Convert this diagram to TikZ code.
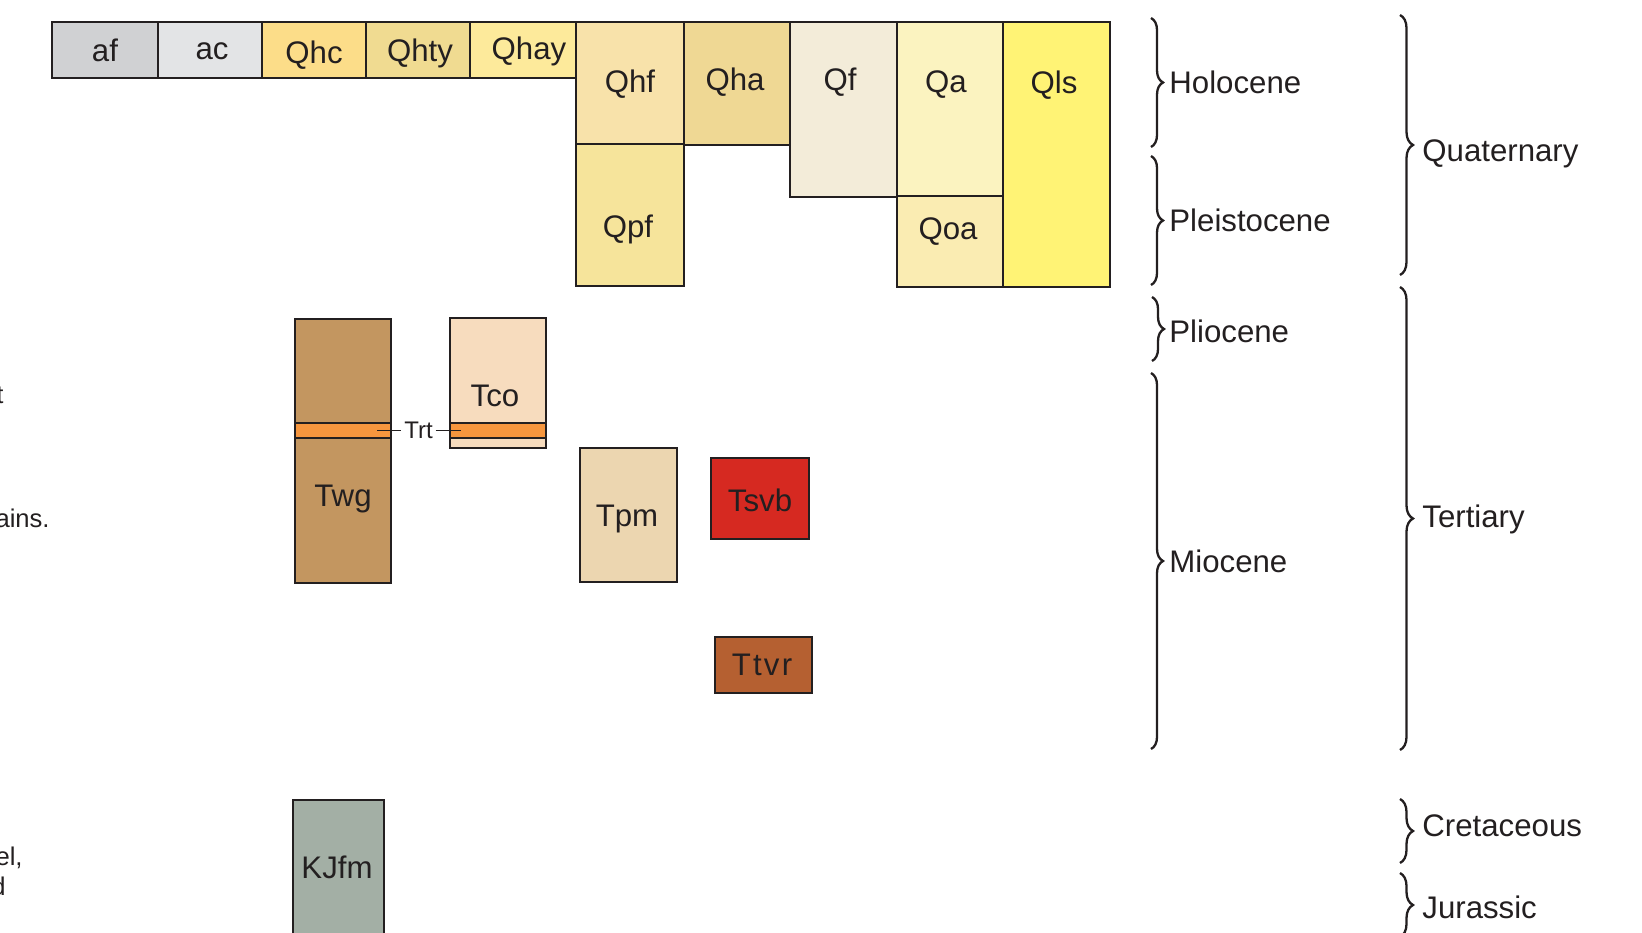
\documentclass[tikz,border=0pt]{standalone}
\usepackage{fontspec}
\setmainfont{Liberation Sans}
\usetikzlibrary{fit,decorations.pathreplacing}

% map unit colours
\definecolor{ink}{HTML}{231F20}
\definecolor{cAf}{HTML}{D0D1D3}
\definecolor{cAc}{HTML}{E3E4E6}
\definecolor{cQhc}{HTML}{FCDD89}
\definecolor{cQhty}{HTML}{F0DB91}
\definecolor{cQhay}{HTML}{FDEA9B}
\definecolor{cQhf}{HTML}{F8E2AA}
\definecolor{cQpf}{HTML}{F6E49B}
\definecolor{cQha}{HTML}{EFD894}
\definecolor{cQf}{HTML}{F3ECD9}
\definecolor{cQa}{HTML}{FBF3C0}
\definecolor{cQoa}{HTML}{FAECB2}
\definecolor{cQls}{HTML}{FFF375}
\definecolor{cTwg}{HTML}{C39660}
\definecolor{cTrt}{HTML}{F6963E}
\definecolor{cTco}{HTML}{F7DCBE}
\definecolor{cTpm}{HTML}{ECD6B0}
\definecolor{cTsvb}{HTML}{D62921}
\definecolor{cTtvr}{HTML}{B56031}
\definecolor{cKJfm}{HTML}{A3AFA5}

\tikzset{
  unitbox/.style={rectangle, draw=ink, line width=0.85pt, inner sep=0pt, outer sep=0pt},
  bandbox/.style={rectangle, draw=ink, line width=0.7pt, inner sep=0pt, outer sep=0pt, fill=cTrt},
  unitlabel/.style={anchor=base, inner sep=0pt, text=ink, font=\fontsize{15.6pt}{18pt}\selectfont},
  smalllabel/.style={inner sep=1.2pt, text=ink, font=\fontsize{12pt}{14pt}\selectfont},
  legendtext/.style={anchor=base east, inner sep=0pt, text=ink, font=\fontsize{12.8pt}{14pt}\selectfont},
  agelabel/.style={anchor=base west, inner sep=0pt, text=ink, font=\fontsize{15.6pt}{18pt}\selectfont},
  leader/.style={draw=ink, line width=0.75pt},
  epochbrace/.style={draw=ink, line width=1.15pt, decorate, decoration={brace, amplitude=6pt}},
  periodbrace/.style={draw=ink, line width=1.15pt, decorate, decoration={brace, amplitude=6.5pt}},
}

\begin{document}
\begin{tikzpicture}[x=0.5pt, y=-0.5pt]
\useasboundingbox (0,0) rectangle (1642,932);

% ---- Quaternary units ----
\node[unitbox, fill=cAf,   fit={(52,22) (158,78)}]   (af) {};
\node[unitbox, fill=cAc,   fit={(158,22) (262,78)}]  (ac) {};
\node[unitbox, fill=cQhc,  fit={(262,22) (366,78)}]  (qhc) {};
\node[unitbox, fill=cQhty, fit={(366,22) (470,78)}]  (qhty) {};
\node[unitbox, fill=cQhay, fit={(470,22) (576,78)}]  (qhay) {};
\node[unitbox, fill=cQhf,  fit={(576,22) (684,144)}] (qhf) {};
\node[unitbox, fill=cQpf,  fit={(576,144) (684,286)}] (qpf) {};
\node[unitbox, fill=cQha,  fit={(684,22) (790,145)}] (qha) {};
\node[unitbox, fill=cQf,   fit={(790,22) (897,197)}] (qf) {};
\node[unitbox, fill=cQa,   fit={(897,22) (1003,196)}] (qa) {};
\node[unitbox, fill=cQoa,  fit={(897,196) (1003,287)}] (qoa) {};
\node[unitbox, fill=cQls,  fit={(1003,22) (1110,287)}] (qls) {};

\node[unitlabel] (af-t)   at (105,61)   {af};
\node[unitlabel] (ac-t)   at (212,59.5) {ac};
\node[unitlabel] (qhc-t)  at (314,63.5) {Qhc};
\node[unitlabel] (qhty-t) at (420,61)   {Qhty};
\node[unitlabel] (qhay-t) at (529,59.5) {Qhay};
\node[unitlabel] (qhf-t)  at (630,92.3) {Qhf};
\node[unitlabel] (qha-t)  at (735,90.7) {Qha};
\node[unitlabel] (qf-t)   at (840,90)   {Qf};
\node[unitlabel] (qa-t)   at (946,92.3) {Qa};
\node[unitlabel] (qls-t)  at (1054,93.3) {Qls};
\node[unitlabel] (qpf-t)  at (628,237.7) {Qpf};
\node[unitlabel] (qoa-t)  at (948,239.3) {Qoa};

% ---- Tertiary units ----
\node[unitbox, fill=cTwg,  fit={(295,319) (391,583)}] (twg) {};
\node[unitbox, fill=cTco,  fit={(450,318) (546,448)}] (tco) {};
\node[bandbox, fit={(295,423) (391,438)}] (trt-a) {};
\node[bandbox, fit={(450,423) (546,438)}] (trt-b) {};
\node[unitbox, fill=cTpm,  fit={(580,448) (677,582)}] (tpm) {};
\node[unitbox, fill=cTsvb, fit={(711,458) (809,539)}] (tsvb) {};
\node[unitbox, fill=cTtvr, fit={(715,637) (812,693)}] (ttvr) {};

\node[unitlabel] (tco-t)  at (495,406.7) {Tco};
\node[unitlabel] (twg-t)  at (343,506.7) {Twg};
\node[unitlabel] (tpm-t)  at (627,526.7) {Tpm};
\node[unitlabel] (tsvb-t) at (760,511.7) {Tsvb};
\node[unitlabel] (ttvr-t) at (762,675)   {T\kern1.1pt t\kern1.1pt v\kern1.1pt r};

% Trt tie lines between the two columns
\node[smalllabel] (trt) at (418.5,430) {Trt};
\coordinate (trt-l) at (377,430.5);
\coordinate (trt-r) at (461,430.5);
\draw[leader] (trt-l) -- (trt-l -| trt.west);
\draw[leader] (trt-r -| trt.east) -- (trt-r);

% ---- Jurassic-Cretaceous unit ----
\node[unitbox, fill=cKJfm, fit={(293,800) (384,945)}] (kjfm) {};
\node[unitlabel] (kjfm-t) at (337,878.3) {KJfm};

% ---- legend text along the left margin ----
\node[legendtext] (leg-a) at (4,403)  {t};
\node[legendtext] (leg-b) at (50,527) {ains.};
\node[legendtext] (leg-c) at (23,865) {el,};
\node[legendtext] (leg-d) at (6,895)  {d};

% ---- epochs ----
\draw[epochbrace] (1151,18)  -- (1151,147);
\draw[epochbrace] (1151,156) -- (1151,285);
\draw[epochbrace] (1152,297) -- (1152,361);
\draw[epochbrace] (1151,373) -- (1151,749);
\node[agelabel] (holocene)    at (1169,93.3)  {Holocene};
\node[agelabel] (pleistocene) at (1169,231.7) {Pleistocene};
\node[agelabel] (pliocene)    at (1169,342.7) {Pliocene};
\node[agelabel] (miocene)     at (1169,572.7) {Miocene};

% ---- periods ----
\draw[periodbrace] (1400,15)  -- (1400,275);
\draw[periodbrace] (1400,287) -- (1400,750);
\draw[periodbrace] (1400,799) -- (1400,863);
\draw[periodbrace] (1400,873) -- (1400,937);
\node[agelabel] (quaternary) at (1422,161.7) {Quaternary};
\node[agelabel] (tertiary)   at (1422,527.3) {Tertiary};
\node[agelabel] (cretaceous) at (1422,836.7) {Cretaceous};
\node[agelabel] (jurassic)   at (1422,918)   {Jurassic};
\end{tikzpicture}
\end{document}
